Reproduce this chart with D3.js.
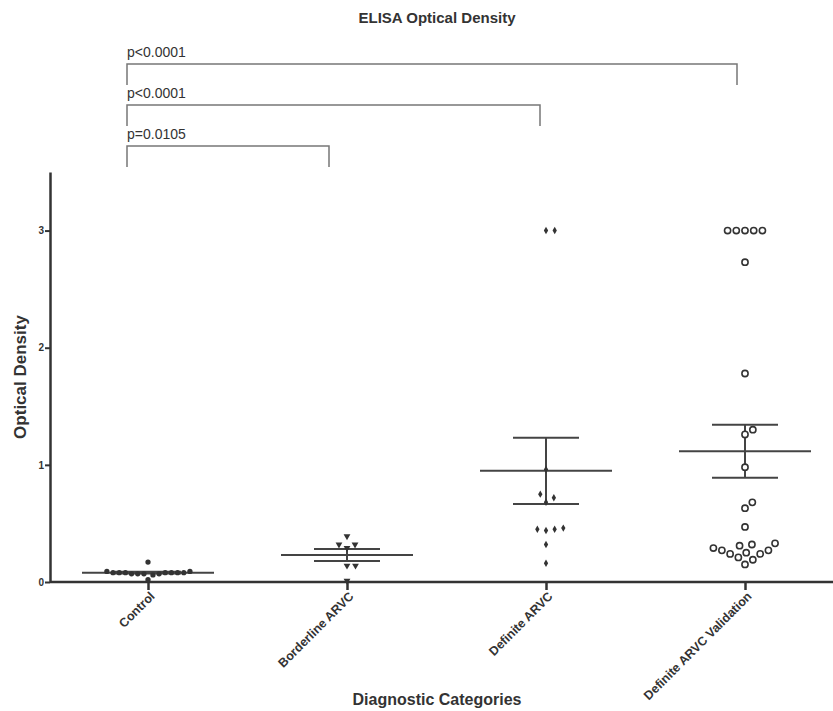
<!DOCTYPE html>
<html lang="en">
  <head>
    <meta charset="UTF-8" />
    <title>ELISA Optical Density</title>
    <script src="https://d3js.org/d3.v7.min.js"></script>
    <style>
      body {
        margin: 0;
        background: #fff;
      }
      text {
        font-family: 'Liberation Sans', Arial, sans-serif;
        fill: #333;
      }
    </style>
  </head>
  <body>
    <div id="chart"></div>
    <script>
      const categories = ['Control', 'Borderline ARVC', 'Definite ARVC', 'Definite ARVC Validation']

      const controlValues = [0.07, 0.08, 0.08, 0.07, 0.08, 0.06, 0.08, 0.09, 0.07, 0.08, 0.08, 0.07, 0.09, 0.08, 0.17, 0.02]
      const borderlineValues = [0.39, 0.32, 0.32, 0.29, 0.14, 0.14, 0.01]
      const definiteValues = [3.0, 3.0, 0.96, 0.75, 0.72, 0.68, 0.46, 0.45, 0.45, 0.44, 0.32, 0.16]
      const validationValues = [
        3.0, 3.0, 3.0, 3.0, 3.0, 2.73, 1.78, 1.3, 1.26, 0.98, 0.68, 0.63, 0.47, 0.33, 0.32, 0.31, 0.29, 0.27, 0.27, 0.25,
        0.24, 0.24, 0.21, 0.19, 0.15,
      ]
      const groupValues = [controlValues, borderlineValues, definiteValues, validationValues]

      const yTicks = [0, 1, 2, 3]

      const comparisons = [
        { target: 'Definite ARVC Validation', label: 'p<0.0001' },
        { target: 'Definite ARVC', label: 'p<0.0001' },
        { target: 'Borderline ARVC', label: 'p=0.0105' },
      ]

      const width = 833
      const height = 711

      const svg = d3.select('#chart').append('svg').attr('width', width).attr('height', height)

      const x = d3.scalePoint().domain(categories).range([148, 745])
      const y = d3.scaleLinear().domain([0, 3.5]).range([582, 172])

      // marker look per group
      const markers = [
        { type: d3.symbolCircle, size: 22, fill: '#333', stroke: 'none', gap: 6.2 },
        { type: d3.symbolTriangle, size: 20, fill: '#333', stroke: 'none', gap: 8.5, flip: true },
        { type: d3.symbolDiamond, size: 16, fill: '#333', stroke: 'none', gap: 8.7 },
        { type: d3.symbolCircle, size: 30, fill: '#fff', stroke: '#333', gap: 8.7 },
      ]

      // simple beeswarm, vertical distance counts a bit less so rows spread sideways
      function swarm(values, d) {
        const k = 0.8
        const pts = values.map(v => ({ v, py: y(v) })).sort((a, b) => b.py - a.py)
        const placed = []
        for (const p of pts) {
          const cands = [0]
          for (const q of placed) {
            const dy = Math.abs(q.py - p.py) * k
            if (dy < d) {
              const dx = Math.sqrt(d * d - dy * dy)
              cands.push(q.dx + dx, q.dx - dx)
            }
          }
          cands.sort((a, b) => Math.abs(a) - Math.abs(b) || b - a)
          for (const c of cands) {
            if (placed.every(q => (q.dx - c) ** 2 + ((q.py - p.py) * k) ** 2 >= d * d - 1e-6)) {
              p.dx = c
              break
            }
          }
          placed.push(p)
        }
        return placed
      }

      // axes
      svg
        .append('line')
        .attr('x1', 50)
        .attr('x2', width)
        .attr('y1', y(0))
        .attr('y2', y(0))
        .attr('stroke', '#333')
        .attr('stroke-width', 2.5)

      const yAxis = svg
        .append('g')
        .attr('transform', 'translate(50,0)')
        .call(d3.axisLeft(y).tickValues(yTicks).tickSize(5).tickSizeOuter(0).tickFormat(d3.format('d')))
      yAxis.select('.domain').attr('stroke', '#333').attr('stroke-width', 2.5)
      yAxis.selectAll('.tick line').attr('stroke', '#333').attr('stroke-width', 2)
      yAxis
        .selectAll('.tick text')
        .attr('x', -6)
        .style('font-family', "'Liberation Sans', Arial, sans-serif")
        .style('font-size', '10px')
        .style('font-weight', 'bold')
        .attr('fill', '#444')

      const xAxis = svg
        .append('g')
        .attr('transform', `translate(0,${y(0)})`)
        .call(d3.axisBottom(x).tickSize(8).tickSizeOuter(0))
      xAxis.select('.domain').remove()
      xAxis.selectAll('.tick line').attr('stroke', '#333').attr('stroke-width', 2.5)
      xAxis
        .selectAll('.tick text')
        .attr('text-anchor', 'end')
        .attr('transform', 'translate(7,15) rotate(-45)')
        .attr('x', 0)
        .attr('y', 0)
        .attr('dy', 0)
        .style('font-family', "'Liberation Sans', Arial, sans-serif")
        .style('font-size', '12.5px')
        .style('font-weight', 'bold')
        .attr('fill', '#444')

      // mean and SEM
      const stats = groupValues.map((vals, i) => {
        const mean = d3.mean(vals)
        const sem = d3.deviation(vals) / Math.sqrt(vals.length)
        return { cat: categories[i], mean, sem }
      })

      const sg = svg.append('g').attr('stroke', '#444').attr('stroke-width', 2).attr('fill', 'none')
      stats.forEach(s => {
        const cx = x(s.cat)
        sg.append('line').attr('x1', cx - 66).attr('x2', cx + 66).attr('y1', y(s.mean)).attr('y2', y(s.mean))
        sg.append('line').attr('x1', cx - 33).attr('x2', cx + 33).attr('y1', y(s.mean + s.sem)).attr('y2', y(s.mean + s.sem))
        sg.append('line').attr('x1', cx - 33).attr('x2', cx + 33).attr('y1', y(s.mean - s.sem)).attr('y2', y(s.mean - s.sem))
        sg.append('line').attr('x1', cx).attr('x2', cx).attr('y1', y(s.mean + s.sem)).attr('y2', y(s.mean - s.sem))
      })

      // points
      groupValues.forEach((vals, i) => {
        const m = markers[i]
        const cx = x(categories[i])
        const sym = d3.symbol().type(m.type).size(m.size)
        svg
          .append('g')
          .selectAll('path')
          .data(swarm(vals, m.gap))
          .join('path')
          .attr('d', sym)
          .attr('transform', d => `translate(${cx + d.dx},${d.py})` + (m.flip ? ' rotate(180)' : ''))
          .attr('fill', m.fill)
          .attr('stroke', m.stroke)
          .attr('stroke-width', 1.6)
      })

      // significance brackets
      const bracketY = [64, 105, 146]
      const bracketShift = [-8, -6, -18]
      const bg = svg.append('g')
      comparisons.forEach((c, i) => {
        const x0 = x('Control') - 21
        const x1 = x(c.target) + bracketShift[i]
        const by = bracketY[i]
        bg.append('path')
          .attr('d', `M${x0},${by + 21}V${by}H${x1}V${by + 21}`)
          .attr('fill', 'none')
          .attr('stroke', '#777')
          .attr('stroke-width', 1.5)
        bg.append('text')
          .attr('x', x0)
          .attr('y', by - 7)
          .style('font-size', '14px')
          .attr('fill', '#444')
          .text(c.label)
      })

      // titles
      svg
        .append('text')
        .attr('x', 437)
        .attr('y', 23)
        .attr('text-anchor', 'middle')
        .style('font-size', '15px')
        .style('font-weight', 'bold')
        .text('ELISA Optical Density')

      svg
        .append('text')
        .attr('x', 437)
        .attr('y', 705)
        .attr('text-anchor', 'middle')
        .style('font-size', '16px')
        .style('font-weight', 'bold')
        .text('Diagnostic Categories')

      svg
        .append('text')
        .attr('transform', 'translate(26,377) rotate(-90)')
        .attr('text-anchor', 'middle')
        .style('font-size', '17px')
        .style('font-weight', 'bold')
        .text('Optical Density')
    </script>
  </body>
</html>
